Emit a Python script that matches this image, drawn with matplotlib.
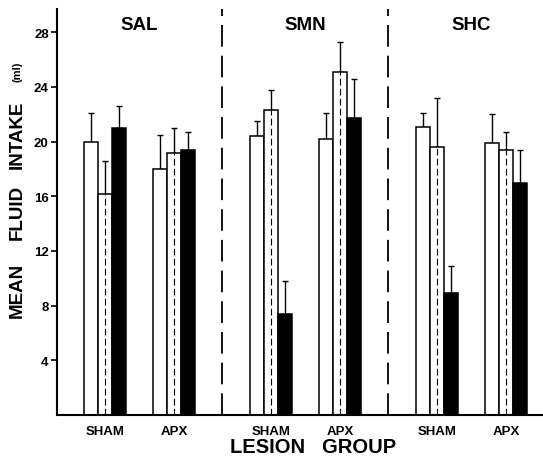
import numpy as np
import matplotlib
matplotlib.use("Agg")
import matplotlib.pyplot as plt

plt.rcParams['font.family'] = ['Liberation Sans', 'DejaVu Sans']

# mean fluid intake (ml) and upper error bar tops, per panel: [sham, apx] x [open, dashed, solid]
panels = ["SAL", "SMN", "SHC"]
groups = ["SHAM", "APX"]
open_mean = [[20.0, 18.0], [20.4, 20.2], [21.1, 19.9]]
open_top = [[22.1, 20.5], [21.5, 22.1], [22.1, 22.0]]
dash_mean = [[16.2, 19.2], [22.3, 25.1], [19.6, 19.4]]
dash_top = [[18.6, 21.0], [23.8, 27.3], [23.2, 20.7]]
solid_mean = [[21.0, 19.4], [7.4, 21.7], [8.9, 17.0]]
solid_top = [[22.6, 20.7], [9.8, 24.6], [10.9, 19.4]]

yticks = [4, 8, 12, 16, 20, 24, 28]

bar_w = 1.0
group_gap = 4.86
panel_gap = 11.69

W, H = 543, 464
fig = plt.figure(figsize=(W / 100, H / 100), dpi=100)
ax = fig.add_axes([57 / W, (H - 416) / H, (W - 57) / W, (416 - 10) / H])


def draw_bars(x, means, tops, kind):
    for xi, m, t in zip(x, means, tops):
        if kind == "solid":
            ax.bar(xi, m, width=bar_w, color="black", edgecolor="black", lw=1.1, zorder=2)
        else:
            ax.bar(xi, m, width=bar_w, color="white", edgecolor="black", lw=1.1, zorder=2)
        if kind == "dash":
            ax.plot([xi, xi], [0, m], color="black", lw=0.8, ls=(0, (6, 3)), zorder=3)
        ax.errorbar(xi, m, yerr=[[0], [t - m]], fmt="none", ecolor="black",
                    elinewidth=1, capsize=2, capthick=1, zorder=1)


centers = []
for p in range(len(panels)):
    base = p * panel_gap
    gx = np.array([base, base + group_gap])
    centers.extend(gx)
    draw_bars(gx - bar_w, open_mean[p], open_top[p], "open")
    draw_bars(gx, dash_mean[p], dash_top[p], "dash")
    draw_bars(gx + bar_w, solid_mean[p], solid_top[p], "solid")
    ax.text(base + group_gap / 2, 28.6, panels[p], ha="center", va="center",
            fontsize=13.5, fontweight="bold")
    if p > 0:
        xd = base - (panel_gap - group_gap) / 2
        ax.plot([xd, xd], [0, 29.7], color="black", lw=1.3, ls=(0, (12, 5)), zorder=1)

ax.set_xlim(-3.38, 30.85)
ax.set_ylim(0, 29.7)
ax.set_xticks(centers)
ax.set_xticklabels(groups * len(panels), fontsize=9.5, fontweight="bold")
ax.tick_params(axis="x", length=0, pad=7)
ax.set_yticks(yticks)
ax.set_yticklabels([str(v) for v in yticks], fontsize=9.5, fontweight="bold")
ax.tick_params(axis="y", length=4, width=1.2, direction="out", pad=2)

for s in ["top", "right"]:
    ax.spines[s].set_visible(False)
for s in ["left", "bottom"]:
    ax.spines[s].set_linewidth(1.5)

# y label words placed one by one for the wide spacing
for word, yc in [("MEAN", 290), ("FLUID", 212), ("INTAKE", 135)]:
    fig.text(17 / W, 1 - yc / H, word, rotation=90, ha="center", va="center",
             fontsize=13.5, fontweight="bold")
fig.text(17 / W, 1 - 72 / H, "(ml)", rotation=90, ha="center", va="center",
         fontsize=8, fontweight="bold")
fig.text(313 / W, 1 - 448 / H, "LESION   GROUP", ha="center", va="center",
         fontsize=14.5, fontweight="bold")

fig.savefig("out.png", dpi=100)
